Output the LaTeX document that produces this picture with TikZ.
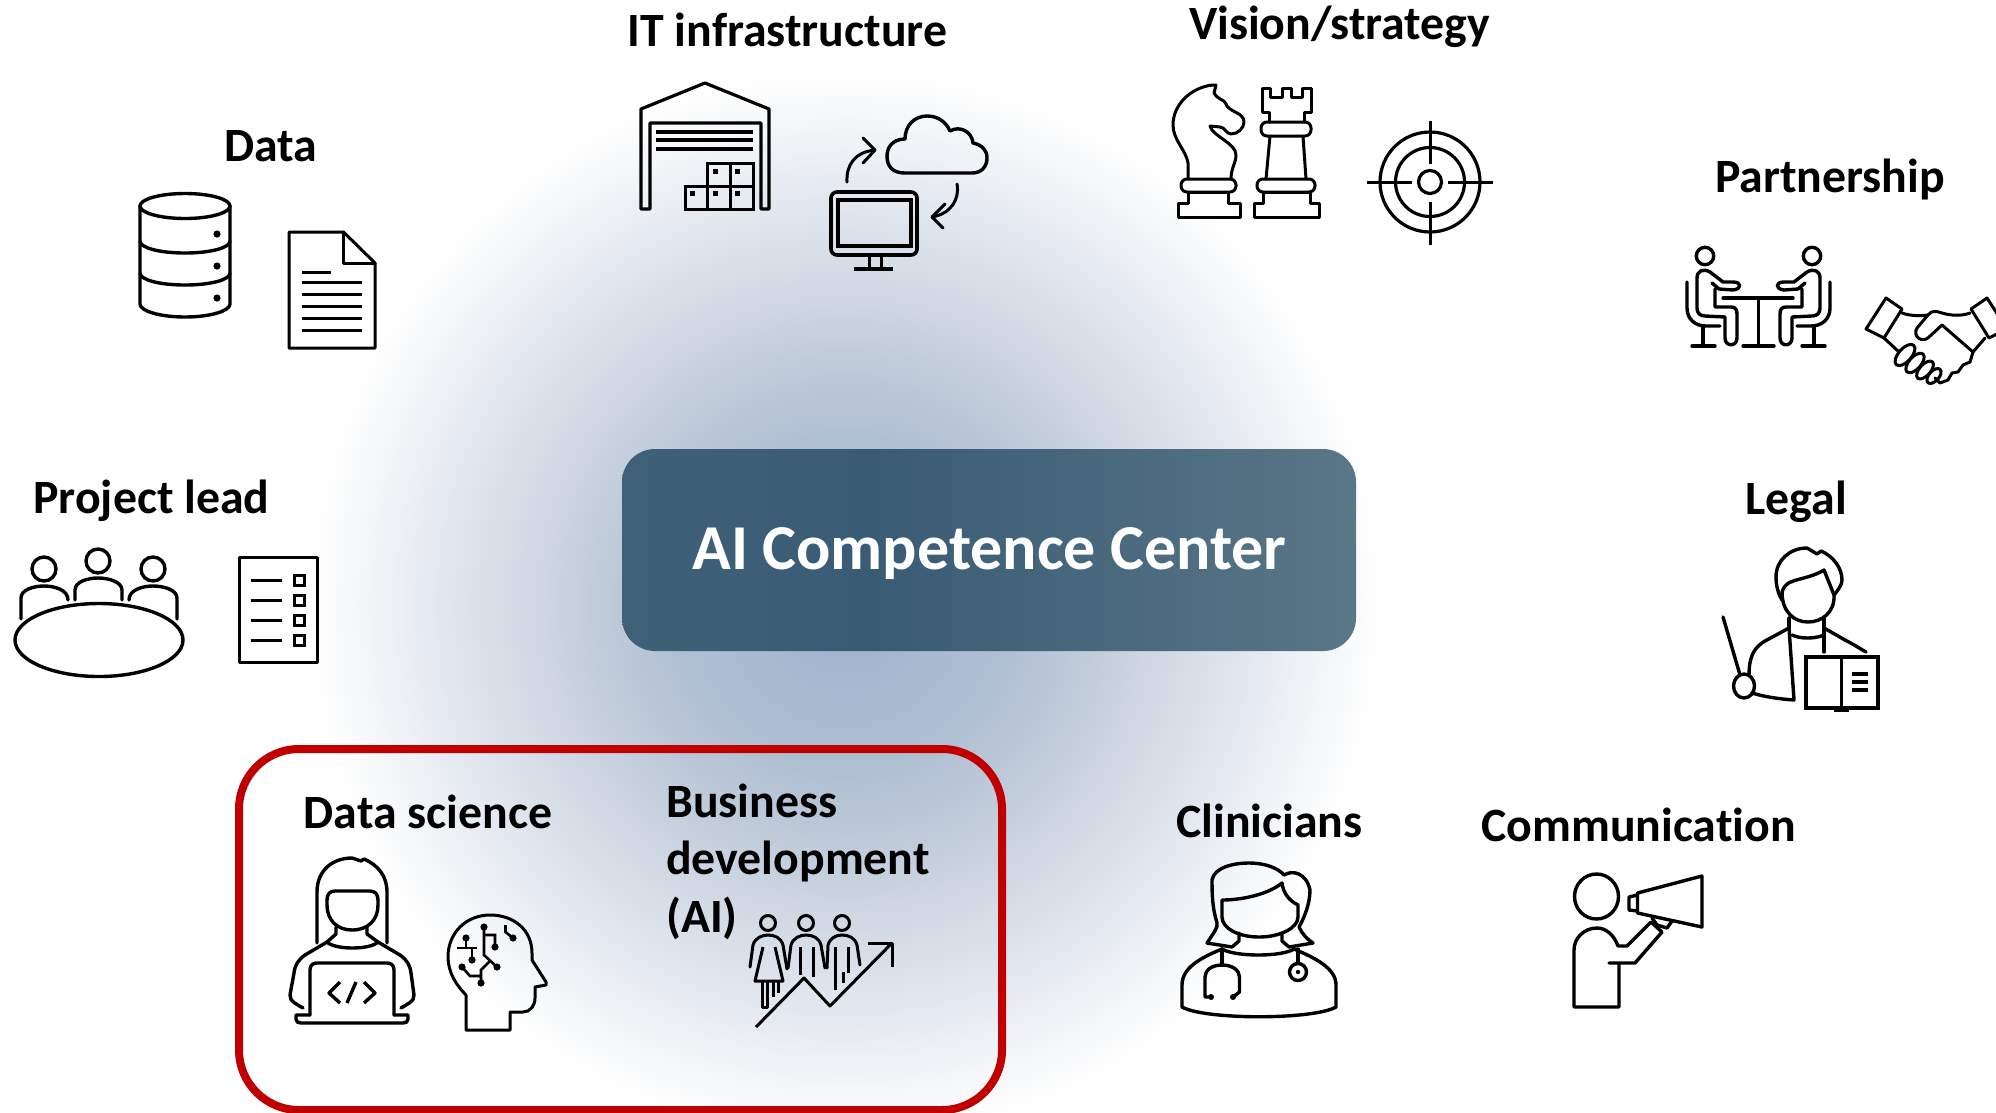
\documentclass[tikz,border=0pt]{standalone}
\usepackage{fontspec}
\setmainfont{Carlito}[Ligatures=NoCommon]
\definecolor{glowA}{HTML}{A0B2CC}
\definecolor{glowB}{HTML}{A5B6CF}
\definecolor{glowC}{HTML}{B0C0D3}
\definecolor{glowD}{HTML}{BCC8D8}
\definecolor{boxA}{HTML}{3F6178}
\definecolor{boxB}{HTML}{395B74}
\definecolor{boxC}{HTML}{5A7787}
\definecolor{redframe}{HTML}{C00000}
\pgfdeclareradialshading{bgglow}{\pgfpoint{0bp}{0bp}}{color(0bp)=(glowA); color(2.8bp)=(glowB); color(7.9bp)=(glowC); color(10.5bp)=(glowD); color(25bp)=(white); color(50bp)=(white)}
\pgfdeclarehorizontalshading{boxgrad}{100bp}{color(0bp)=(boxA); color(25bp)=(boxA); color(42bp)=(boxB); color(75bp)=(boxC); color(100bp)=(boxC)}
\tikzset{
  ic/.style={draw=black,line width=3.4pt,line join=round,line cap=round},
  heading/.style={font=\fontsize{47.8}{52}\selectfont\bfseries,text=black,inner sep=0pt,anchor=base},
  headleft/.style={heading,anchor=base west},
  hubtext/.style={font=\fontsize{64}{70}\selectfont\bfseries,text=white,inner sep=0pt,anchor=base},
}
\newcommand{\sitter}{%
  \draw[ic] (1705,256) circle[radius=8.7pt];
  \draw[ic] (1712,283) -- (1719,289) -- (1733,290) .. controls (1742,289) and (1742,282) .. (1733,282) -- (1723,282)
     -- (1710,272) .. controls (1703,268) and (1697,271) .. (1697,278) -- (1697,308) .. controls (1697,313) and (1700,316) .. (1705,316)
     -- (1725,317) -- (1725,338) .. controls (1725,347) and (1737,347) .. (1737,338) -- (1737,314) .. controls (1737,309) and (1735,307) .. (1731,307) -- (1715,307) -- (1715,289);
  \draw[ic] (1687,282) -- (1687,308) .. controls (1687,319) and (1695,326) .. (1706,326) -- (1720,326);
  \draw[ic] (1703,326) -- (1703,346);
  \draw[ic] (1692,346) -- (1715,346);
}
\begin{document}
\begin{tikzpicture}[x=1pt,y=-1pt]
\useasboundingbox (0,0) rectangle (1996,1112);
\fill[white] (0,0) rectangle (1996,1112);
\shade[shading=bgglow] (845,605) circle[radius=535pt];

% red frame
\draw[redframe,line width=8pt,rounded corners=60pt] (239,749) rectangle (1002,1110);

% hub
\shade[shading=boxgrad,rounded corners=33pt] (622,449) rectangle (1356,651);
\node[hubtext] (hub) at (989.5,569) {AI Competence Center};

% headings
\node[heading] (tdata) at (270.5,161.5) {Data};
\node[heading] (tit) at (787.5,46.5) {IT infrastructure};
\node[heading] (tvis) at (1339.5,39.5) {Vision/strategy};
\node[heading] (tpart) at (1830,192.5) {Partnership};
\node[heading] (tlegal) at (1796,514.5) {Legal};
\node[heading] (tlead) at (151.5,513) {Project lead};
\node[heading] (tclin) at (1269.5,837) {Clinicians};
\node[heading] (tcomm) at (1638.5,841.5) {Communication};
\node[heading] (tds) at (428,828.5) {Data science};
\node[headleft] (tbus1) at (666,817.5) {Business};
\node[headleft] (tbus2) at (666,874.5) {development};
\node[headleft] (tbus3) at (666,932.5) {(AI)};

% database
\draw[ic] (185,206) ellipse[x radius=45pt,y radius=12.5pt];
\draw[ic] (140,206) -- (140,304) .. controls (140,311) and (160,317) .. (185,317) .. controls (210,317) and (230,311) .. (230,304) -- (230,206);
\draw[ic] (140,241) .. controls (140,248) and (160,253) .. (185,253) .. controls (210,253) and (230,248) .. (230,241);
\draw[ic] (140,273) .. controls (140,280) and (160,285) .. (185,285) .. controls (210,285) and (230,280) .. (230,273);
\foreach \yy in {234,266,298} \fill (217,\yy) circle[radius=3.6pt];
% document
\draw[ic,line width=3pt] (289,232) -- (343.5,232) -- (375,263) -- (375,348) -- (289,348) -- cycle;
\draw[ic,line width=3pt] (343.5,232) -- (343.5,263) -- (375,263);
\draw[line width=3pt] (302,272) -- (331,272);
\foreach \yy in {282,294,306,318,330} \draw[line width=3pt] (302,\yy) -- (362,\yy);

% warehouse
\draw[ic,line width=3.2pt,line cap=butt] (641,209) -- (641,109) -- (705,83) -- (769,109) -- (769,209) -- (761,209) -- (761,123) -- (650,123) -- (650,209) -- cycle;
\foreach \yy in {132,140,149} \draw[line width=3.6pt] (656,\yy) -- (753,\yy);
\draw[line width=3pt] (685,186) rectangle (753,209);
\draw[line width=3pt] (707,163) rectangle (753,186);
\draw[line width=3pt] (707,186) -- (707,209);
\draw[line width=3pt] (730,163) -- (730,209);
\foreach \xx/\yy in {715/171,737/171,692/193,715/193,737/193} \fill (\xx-2.5,\yy-2.5) rectangle (\xx+2.5,\yy+2.5);

% cloud
\draw[ic] (905,173) .. controls (893,173) and (887,167) .. (887,156) .. controls (887,146) and (894,139) .. (905,139) .. controls (905,125) and (915,116) .. (927,116) .. controls (938,116) and (946,122) .. (950,131) .. controls (960,125) and (972,132) .. (973,143) .. controls (982,145) and (987,150) .. (987,158) .. controls (987,167) and (981,173) .. (972,173) -- cycle;
\draw[ic,line width=3pt] (847,182) .. controls (846,165) and (855,152) .. (875,150);
\draw[ic,line width=3pt] (863,138) -- (875,150) -- (863,163);
\draw[ic,line width=3pt] (957,184) .. controls (960,200) and (950,214) .. (932,217);
\draw[ic,line width=3pt] (945,204) -- (932,217) -- (943,228);
% monitor
\draw[line width=3.6pt,rounded corners=6pt] (831,192) rectangle (917,255);
\draw[line width=3.4pt] (838,200) rectangle (911,246);
\draw[line width=3pt] (869,255) -- (869,268);
\draw[line width=3pt] (881,255) -- (881,268);
\draw[line width=3.4pt] (854,269) -- (893,269);

% knight
\draw[ic,line width=3pt] (1178,217) -- (1178,203) -- (1188,203) -- (1188,192) -- (1228,192) -- (1228,203) -- (1240,203) -- (1240,217) -- cycle;
\draw[ic,line width=3pt,rounded corners=6pt] (1181,179) rectangle (1236,192);
\draw[ic,line width=3pt] (1188,179) -- (1188,163) .. controls (1186,150) and (1173,140) .. (1173,125) .. controls (1173,105) and (1190,88) .. (1212,85) -- (1216,85) -- (1214,93) .. controls (1218,100) and (1224,99) .. (1226,104) .. controls (1228,112) and (1244,112) .. (1244,122) .. controls (1244,128) and (1238,134) .. (1231,134) .. controls (1226,134) and (1225,127) .. (1220,127) -- (1210,126) .. controls (1212,136) and (1236,143) .. (1236,155) .. controls (1236,163) and (1231,168) .. (1231,179);
% rook
\draw[ic,line width=3pt] (1254,217) -- (1254,203) -- (1263,203) -- (1263,192) -- (1310,192) -- (1310,203) -- (1319,203) -- (1319,217) -- cycle;
\draw[ic,line width=3pt,rounded corners=6pt] (1257,179) rectangle (1315,192);
\draw[ic,line width=3pt] (1266,179) -- (1270,136);
\draw[ic,line width=3pt] (1306,179) -- (1303,136);
\draw[ic,line width=3pt,rounded corners=6pt] (1261,122) rectangle (1311,136);
\draw[ic,line width=3pt] (1269,122) -- (1269,112) -- (1262,112) -- (1262,88) -- (1270,88) -- (1270,97) -- (1282,97) -- (1282,88) -- (1291,88) -- (1291,97) -- (1302,97) -- (1302,88) -- (1311,88) -- (1311,112) -- (1304,112) -- (1304,122);

% target
\draw[ic,line width=3.2pt] (1430,182) circle[radius=50pt];
\draw[ic,line width=3.2pt] (1430,182) circle[radius=34.5pt];
\draw[ic,line width=3.2pt] (1430,182) circle[radius=11.5pt];
\draw[line width=3pt] (1430,121) -- (1430,164);
\draw[line width=3pt] (1430,202) -- (1430,245);
\draw[line width=3pt] (1367,182) -- (1412,182);
\draw[line width=3pt] (1448,182) -- (1493,182);

% partnership
\sitter
\begin{scope}[xshift=3517pt,xscale=-1]\sitter\end{scope}
\draw[ic] (1723,298) -- (1793,298);
\draw[ic] (1758.5,298) -- (1758.5,346);
\draw[ic] (1743,346) -- (1774,346);
% handshake
\draw[ic,line width=3pt] (1886,298) -- (1902,309) -- (1884,338) -- (1866,329) -- cycle;
\draw[ic,line width=3pt] (1987,298) -- (1971,309) -- (1989,338) -- (2007,329) -- cycle;
\draw[ic,line width=3pt] (1902,313) .. controls (1910,316) and (1920,316) .. (1928,315) -- (1917,328) .. controls (1912,336) and (1922,344) .. (1929,337) -- (1942,325) -- (1973,352);
\draw[ic,line width=3pt] (1928,315) .. controls (1932,310) and (1936,311) .. (1942,313) .. controls (1952,316) and (1962,316) .. (1970,313);
\draw[ic,line width=3pt] (1985,338) -- (1973,352) -- (1970,362) -- (1963,365) -- (1958,372) -- (1952,373) -- (1948,380) -- (1940,383) -- (1935,378);
\draw[ic,line width=3pt] (1884,338) -- (1899,352);
\draw[ic,line width=3pt,rotate around={48:(1905,355)}] (1905,355) ellipse[x radius=13pt,y radius=6.5pt];
\draw[ic,line width=3pt,rotate around={48:(1915,363)}] (1915,363) ellipse[x radius=12pt,y radius=6pt];
\draw[ic,line width=3pt,rotate around={48:(1925,370)}] (1925,370) ellipse[x radius=11pt,y radius=5.5pt];
\draw[ic,line width=3pt,rotate around={48:(1934,376)}] (1934,376) ellipse[x radius=9pt,y radius=5pt];

% project lead
\draw[ic] (99,640) ellipse[x radius=84pt,y radius=36.5pt];
\draw[ic] (44,569) circle[radius=12pt];
\draw[ic] (98,561) circle[radius=12pt];
\draw[ic] (153,569) circle[radius=12pt];
\draw[ic] (21,619) -- (21,598) .. controls (21,590) and (33,586) .. (44,586) .. controls (55,586) and (68,590) .. (68,600);
\draw[ic] (75,600) -- (75,590) .. controls (75,582) and (87,578) .. (98,578) .. controls (109,578) and (122,582) .. (122,590) -- (122,600);
\draw[ic] (129,600) .. controls (129,590) and (142,586) .. (153,586) .. controls (164,586) and (177,590) .. (177,598) -- (177,619);
\draw[ic,line width=3pt] (239,557) rectangle (317,662);
\foreach \yy in {580,600,620,640} {
  \draw[line width=3pt] (251,\yy) -- (282,\yy);
  \draw[line width=3pt] (294,\yy-5) rectangle (304,\yy+5);
}

% data scientist
\draw[ic] (317,943) -- (317,892) .. controls (317,870) and (333,858) .. (352,858) -- (361,861) -- (364,859) .. controls (378,865) and (387,876) .. (387,892) -- (387,943);
\draw[ic] (327,900) .. controls (327,894) and (330,891) .. (335,891) -- (370,891) .. controls (375,891) and (378,894) .. (378,900) -- (378,905) .. controls (378,920) and (368,930) .. (352,930) .. controls (337,930) and (327,920) .. (327,905) -- cycle;
\draw[ic] (336,927) -- (336,934) -- (327,942) .. controls (335,950) and (370,950) .. (378,942) -- (367,934) -- (367,927);
\draw[ic] (327,942) -- (305,955) .. controls (298,960) and (295,965) .. (294,973) -- (290,995) .. controls (289,1001) and (298,1005) .. (303,1008);
\draw[ic] (378,942) -- (400,955) .. controls (407,960) and (410,965) .. (411,973) -- (414,995) .. controls (415,1001) and (406,1005) .. (401,1008);
\draw[ic] (310,1015) -- (310,970) .. controls (310,965) and (313,963) .. (317,963) -- (387,963) .. controls (391,963) and (394,965) .. (394,970) -- (394,1015);
\draw[ic] (310,1015) -- (296,1015) -- (296,1019) .. controls (296,1022) and (298,1023) .. (301,1023) -- (403,1023) .. controls (406,1023) and (408,1022) .. (408,1019) -- (408,1015) -- (394,1015);
\draw[ic,line cap=butt] (340,982) -- (329,993) -- (340,1003);
\draw[ic,line cap=butt] (356,982) -- (347,1003);
\draw[ic,line cap=butt] (364,982) -- (375,993) -- (364,1003);
% brain head
\draw[ic,line width=3pt] (466,1030) -- (466,995) .. controls (456,985) and (448,972) .. (448,957) .. controls (448,932) and (467,915) .. (490,915) .. controls (514,915) and (532,930) .. (532,953) -- (532,960) -- (546,982) -- (546,985) -- (535,987) -- (535,998) .. controls (535,1006) and (530,1012) .. (523,1012) -- (510,1012) -- (510,1030) -- cycle;
\draw[line width=2.6pt] (466,938) -- (466,948) (457,948) -- (477,948) (472,948) -- (472,960);
\draw[line width=2.6pt] (484,927) -- (484,955) -- (497,967) (484,935) -- (495,935) -- (495,947);
\draw[line width=2.6pt] (490,961) -- (481,970) -- (481,983) (462,967) -- (470,976) -- (481,976);
\draw[line width=2.6pt] (505.5,925) -- (505.5,932) -- (513,938);
\foreach \xx/\yy in {466/938,472/960,484/927,495/947,497/967,481/983,462/967,513/938} \fill (\xx,\yy) circle[radius=3.6pt];

% business people
\foreach \xx in {768,806,842} \draw[ic,line width=3pt] (\xx,923) circle[radius=7.5pt];
\draw[ic,line width=3pt] (750,967) -- (753,945) .. controls (755,938) and (762,935) .. (768,935) .. controls (775,935) and (781,938) .. (783,945) -- (787,969);
\draw[ic,line width=3pt,line cap=butt] (763,947) -- (755,981) -- (783,981) -- (775,947);
\draw[ic,line width=3pt,line cap=butt] (762,981) -- (762,1007) -- (767,1007) -- (767,981) (773,981) -- (773,997) (778,981) -- (778,993);
\draw[ic,line width=3pt] (788,968) -- (791,945) .. controls (793,938) and (800,935) .. (806,935) .. controls (813,935) and (819,938) .. (821,945) -- (825,968);
\draw[ic,line width=3pt,line cap=butt] (800,947) -- (800,975) (813,947) -- (813,977);
\draw[ic,line width=3pt] (827,968) -- (828,945) .. controls (830,938) and (836,935) .. (842,935) .. controls (849,935) and (855,938) .. (857,945) -- (860,965);
\draw[ic,line width=3pt,line cap=butt] (835,947) -- (835,990) (848,947) -- (848,973) (843,972) -- (843,983);
\draw[ic,line width=3pt,line cap=butt] (756,1027) -- (804,978) -- (830,1006) -- (892,943);
\draw[ic,line width=3pt,line cap=butt] (868,943) -- (892,943) -- (892,967);

% nurse
\draw[ic] (1239,933) -- (1239,941) -- (1232,947) -- (1207,943) .. controls (1214,932) and (1218,928) .. (1217,923) .. controls (1214,912) and (1212,905) .. (1212,880) .. controls (1214,868) and (1232,863) .. (1249,863) .. controls (1265,863) and (1278,868) .. (1284,875) .. controls (1292,870) and (1306,872) .. (1310,890) .. controls (1310,905) and (1303,920) .. (1299,927) .. controls (1302,934) and (1308,940) .. (1313,943) -- (1289,947) -- (1282,941) -- (1282,933);
\draw[ic] (1222,900) .. controls (1245,900) and (1270,893) .. (1282,883) .. controls (1283,892) and (1288,900) .. (1298,905) -- (1298,917) .. controls (1298,928) and (1280,937) .. (1259,937) .. controls (1238,937) and (1222,928) .. (1222,917) -- cycle;
\draw[ic] (1222,949) .. controls (1235,957) and (1282,957) .. (1294,949);
\draw[ic] (1222,949) .. controls (1200,958) and (1182,968) .. (1182,985) -- (1182,1007) .. controls (1205,1020) and (1313,1020) .. (1336,1007) -- (1336,985) .. controls (1336,968) and (1315,958) .. (1294,949);
\draw[ic] (1222,949) -- (1222,965);
\draw[ic] (1211,997) -- (1205,997) -- (1205,977) .. controls (1205,970) and (1212,965) .. (1222,965) .. controls (1232,965) and (1239.5,970) .. (1239.5,977) -- (1239.5,992) -- (1233,997);
\fill (1211,997) circle[radius=3pt];
\fill (1233,997) circle[radius=3pt];
\draw[ic] (1298,949) -- (1298,963);
\draw[ic] (1298,972) circle[radius=8.5pt];
\fill (1298,972) circle[radius=2.2pt];

% communicator
\draw[ic] (1596.5,896.5) ellipse[x radius=22pt,y radius=22.5pt];
\draw[ic] (1609,963) -- (1635,963) -- (1662,932) -- (1651,922) -- (1627,946) -- (1618,946) .. controls (1614,935) and (1606,928) .. (1597,928) .. controls (1584,928) and (1574,938) .. (1574,950) -- (1574,1007) -- (1619,1007) -- (1619,963);
\draw[ic] (1702,876) -- (1702,927) -- (1637.5,913) -- (1637.5,893) -- cycle;
\draw[ic] (1637.5,895) -- (1629,897) -- (1629,910) -- (1637.5,911);
\draw[ic] (1652,918) -- (1657,925) -- (1667,928) -- (1672,921);

% legal
\draw[ic] (1782,600) .. controls (1776,590) and (1776,580) .. (1776,577) .. controls (1776,560) and (1790,548) .. (1807,548) -- (1817,554) -- (1821,551) .. controls (1833,556) and (1842,568) .. (1842,580) .. controls (1842,585) and (1838,590) .. (1834,595);
\draw[ic] (1782,592) .. controls (1785,582) and (1793,581) .. (1800,579) .. controls (1808,577) and (1818,574) .. (1824,570) -- (1834,595) .. controls (1835,612) and (1822,622) .. (1808,622) .. controls (1794,622) and (1782,612) .. (1782,592);
\draw[ic] (1789,618) -- (1789,628) (1824,618) -- (1824,628);
\draw[ic] (1792,635) .. controls (1800,639) and (1815,639) .. (1824,635);
\draw[ic] (1789,628) -- (1794,700) .. controls (1780,699) and (1765,697) .. (1752,693);
\draw[ic] (1789,628) -- (1765,641) .. controls (1755,647) and (1749,655) .. (1749,675);
\draw[ic] (1824,628) -- (1845,640) .. controls (1855,645) and (1862,650) .. (1866,652);
\draw[ic] (1824,628) -- (1824,652);
\draw[line width=3.2pt] (1806,657) rectangle (1878,708);
\draw[line width=3.2pt] (1841.5,657) -- (1841.5,708);
\draw[line width=3pt] (1834,710) -- (1849,710);
\foreach \yy in {674,682,690} \draw[line width=3.4pt] (1852,\yy) -- (1868,\yy);
\draw[ic] (1744,686) ellipse[x radius=10.5pt,y radius=12pt];
\draw[ic] (1723,617) -- (1740,675);
\end{tikzpicture}
\end{document}
